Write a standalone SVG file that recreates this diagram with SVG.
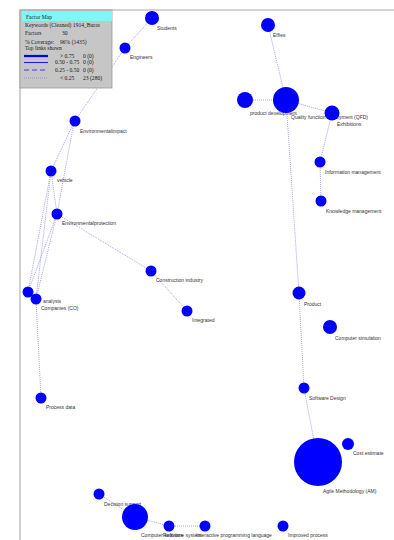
<svg xmlns="http://www.w3.org/2000/svg" width="394" height="540" viewBox="0 0 394 540">
  <style>
    .frame { stroke: #c4c4c4; stroke-width: 1.6; fill: none; }
    .link { stroke: #8c8ce6; stroke-width: 0.8; stroke-dasharray: 1 1; fill: none; }
    .node circle { fill: #0000ff; }
    .lbl { font-family: "Liberation Sans", Arial, sans-serif; font-size: 5px; fill: #333333; }
    .leg { font-family: "Liberation Serif", "Times New Roman", serif; font-size: 5.6px; fill: #202020; }
  </style>

  <rect x="0" y="0" width="394" height="540" fill="#ffffff"/>

  <!-- plot frame -->
  <g id="frame">
    <line class="frame" x1="20" y1="10" x2="394" y2="10"/>
    <line class="frame" x1="20" y1="10" x2="20" y2="540"/>
  </g>

  <!-- links between keywords -->
  <g id="connectors">
    <line class="link" x1="152" y1="18" x2="125" y2="48"/>
    <line class="link" x1="125" y1="48" x2="74" y2="122"/>
    <line class="link" x1="74" y1="122" x2="51" y2="171"/>
    <line class="link" x1="74" y1="122" x2="57" y2="214"/>
    <line class="link" x1="51" y1="171" x2="57" y2="214"/>
    <line class="link" x1="51" y1="171" x2="28" y2="292"/>
    <line class="link" x1="51" y1="171" x2="36" y2="299"/>
    <line class="link" x1="57" y1="214" x2="28" y2="292"/>
    <line class="link" x1="57" y1="214" x2="36" y2="299"/>
    <line class="link" x1="57" y1="214" x2="151" y2="271"/>
    <line class="link" x1="151" y1="271" x2="187" y2="311"/>
    <line class="link" x1="36" y1="299" x2="41" y2="398"/>

    <line class="link" x1="268" y1="25" x2="286" y2="100"/>
    <line class="link" x1="245" y1="100" x2="286" y2="100"/>
    <line class="link" x1="286" y1="100" x2="332" y2="113"/>
    <line class="link" x1="286" y1="100" x2="299" y2="293"/>
    <line class="link" x1="332" y1="113" x2="320" y2="162"/>
    <line class="link" x1="320" y1="162" x2="321" y2="201"/>
    <line class="link" x1="299" y1="293" x2="304" y2="388"/>
    <line class="link" x1="304" y1="388" x2="318" y2="462"/>

    <line class="link" x1="99" y1="494" x2="135" y2="517"/>
    <line class="link" x1="135" y1="517" x2="169" y2="526"/>
    <line class="link" x1="169" y1="526" x2="205" y2="526"/>
  </g>

  <!-- labels sit beneath the discs, which overlap them -->
  <g id="labels">
    <text class="lbl" x="157" y="30">Students</text>
    <text class="lbl" x="130" y="59">Engineers</text>
    <text class="lbl" x="80" y="133">Environmentalimpact</text>
    <text class="lbl" x="57" y="182">vehicle</text>
    <text class="lbl" x="62" y="225">Environmentalprotection</text>
    <text class="lbl" x="156" y="282">Construction industry</text>
    <text class="lbl" x="192" y="322">Integrated</text>
    <text class="lbl" x="43" y="303">analysis</text>
    <text class="lbl" x="41" y="310">Companies (CO)</text>
    <text class="lbl" x="46" y="409">Process data</text>

    <text class="lbl" x="273" y="37">Effies</text>
    <text class="lbl" x="250" y="115">product development</text>
    <text class="lbl" x="291" y="119">Quality function deployment (QFD)</text>
    <text class="lbl" x="337" y="126">Exhibitions</text>
    <text class="lbl" x="325" y="174">Information management</text>
    <text class="lbl" x="326" y="213">Knowledge management</text>
    <text class="lbl" x="304" y="306">Product</text>
    <text class="lbl" x="335" y="340">Computer simulation</text>
    <text class="lbl" x="309" y="400">Software Design</text>
    <text class="lbl" x="353" y="455">Cost estimate</text>
    <text class="lbl" x="323" y="493">Agile Methodology (AM)</text>
    <text class="lbl" x="288" y="537">Improved process</text>

    <text class="lbl" x="104" y="506">Decision support</text>
    <text class="lbl" x="141" y="537">Computer software</text>
    <text class="lbl" x="163" y="537">Real time system</text>
    <text class="lbl" x="196" y="537">Interactive programming language</text>
  </g>

  <!-- keyword discs -->
  <g id="n-students" class="node"><circle cx="152" cy="18" r="7"/></g>
  <g id="n-engineers" class="node"><circle cx="125" cy="48" r="5.5"/></g>
  <g id="n-env-impact" class="node"><circle cx="75" cy="121" r="5.5"/></g>
  <g id="n-vehicle" class="node"><circle cx="51" cy="171" r="5.5"/></g>
  <g id="n-env-protection" class="node"><circle cx="57" cy="214" r="5.5"/></g>
  <g id="n-construction" class="node"><circle cx="151" cy="271" r="5.5"/></g>
  <g id="n-integrated" class="node"><circle cx="187" cy="311" r="5.5"/></g>
  <g id="n-analysis" class="node"><circle cx="28" cy="292" r="5.5"/></g>
  <g id="n-companies" class="node"><circle cx="36" cy="299" r="5.5"/></g>
  <g id="n-process-data" class="node"><circle cx="41" cy="398" r="5.5"/></g>

  <g id="n-effies" class="node"><circle cx="268" cy="25" r="7"/></g>
  <g id="n-product-dev" class="node"><circle cx="245" cy="100" r="8"/></g>
  <g id="n-qfd" class="node"><circle cx="286" cy="100" r="13"/></g>
  <g id="n-exhibitions" class="node"><circle cx="332" cy="113" r="7.5"/></g>
  <g id="n-info-mgmt" class="node"><circle cx="320" cy="162" r="5.5"/></g>
  <g id="n-knowledge-mgmt" class="node"><circle cx="321" cy="201" r="5.5"/></g>
  <g id="n-product" class="node"><circle cx="299" cy="293" r="6.5"/></g>
  <g id="n-computer-sim" class="node"><circle cx="330" cy="327" r="7"/></g>
  <g id="n-software-design" class="node"><circle cx="304" cy="388" r="5.5"/></g>
  <g id="n-cost-estimate" class="node"><circle cx="348" cy="444" r="6"/></g>
  <g id="n-agile" class="node"><circle cx="318" cy="462" r="24"/></g>
  <g id="n-improved-process" class="node"><circle cx="283" cy="526" r="5.5"/></g>

  <g id="n-decision-support" class="node"><circle cx="99" cy="494" r="5.5"/></g>
  <g id="n-computer-software" class="node"><circle cx="135" cy="517" r="13"/></g>
  <g id="n-real-time" class="node"><circle cx="169" cy="526" r="5.5"/></g>
  <g id="n-interactive" class="node"><circle cx="205" cy="526" r="5.5"/></g>

  <!-- legend panel -->
  <g id="legend">
    <rect x="20" y="10" width="92" height="78" fill="#c6c6c6" stroke="#9a9a9a" stroke-width="0.8"/>
    <rect x="22" y="11" width="90" height="10" fill="#7ff7f7"/>
    <text class="leg" x="26" y="18.5">Factor Map</text>
    <text class="leg" x="25" y="27">Keywords (Cleaned) 1914_Buras</text>
    <text class="leg" x="25" y="35">Factors</text>
    <text class="leg" x="62" y="35">30</text>
    <text class="leg" x="25" y="43.5">% Coverage:</text>
    <text class="leg" x="60" y="43.5">96% (1435)</text>
    <text class="leg" x="25" y="50">Top links shown</text>

    <line x1="24" y1="56" x2="48" y2="56" stroke="#0000ff" stroke-width="2.2"/>
    <text class="leg" x="60" y="57.5">&gt; 0.75</text>
    <text class="leg" x="83" y="57.5">0 (0)</text>

    <line x1="24" y1="62.5" x2="48" y2="62.5" stroke="#0000ff" stroke-width="0.9"/>
    <text class="leg" x="55" y="64">0.50 - 0.75</text>
    <text class="leg" x="83" y="64">0 (0)</text>

    <line x1="24" y1="70" x2="48" y2="70" stroke="#3030ff" stroke-width="0.9" stroke-dasharray="5 3"/>
    <text class="leg" x="55" y="71.5">0.25 - 0.50</text>
    <text class="leg" x="83" y="71.5">0 (0)</text>

    <line x1="24" y1="78" x2="48" y2="78" stroke="#8c8ce6" stroke-width="0.8" stroke-dasharray="1 1"/>
    <text class="leg" x="60" y="79.5">&lt; 0.25</text>
    <text class="leg" x="83" y="79.5">23 (280)</text>
  </g>
</svg>
